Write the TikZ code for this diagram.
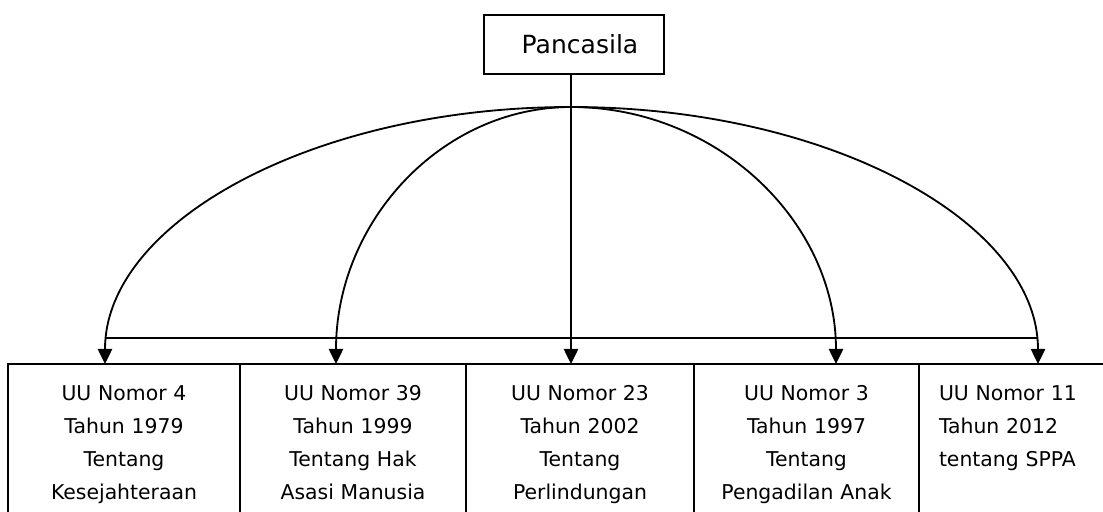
\documentclass[tikz,border=0pt]{standalone}
\usepackage{fontspec}
\setmainfont{DejaVu Sans}
\usetikzlibrary{positioning,arrows.meta}

\begin{document}
\begin{tikzpicture}[x=1cm,y=1cm, every node/.style={align=center},
  link/.style={line width=1.3pt},
  arrow/.style={link, -{Triangle[length=0.38cm,width=0.36cm]}},
  lawbox/.style={draw, line width=1.3pt, outer sep=0pt, inner xsep=0.4cm, inner ysep=0pt,
    text height=0.9cm, text depth=4.6cm, font=\fontsize{14.5pt}{23.5pt}\selectfont}]
  \useasboundingbox (-14.275,-3.675) rectangle (13.3,9.1);

  \node[draw, line width=1.3pt, outer sep=0pt, minimum width=4.5cm, minimum height=1.475cm,
    font=\fontsize{17.8pt}{20pt}\selectfont] (pancasila) at (0.075,7.9875) {\hspace{0.3cm}Pancasila};
  \coordinate (split) at (0,6.425);

  \node[lawbox, anchor=north west, text width=5.0cm] (uu4) at (-14.075,0)
    {UU Nomor 4\\Tahun 1979\\Tentang\\Kesejahteraan};
  \node[lawbox, text width=4.85cm, right=0pt of uu4] (uu39)
    {UU Nomor 39\\Tahun 1999\\Tentang Hak\\Asasi Manusia};
  \node[lawbox, text width=4.9cm, right=0pt of uu39] (uu23)
    {UU Nomor 23\\Tahun 2002\\Tentang\\Perlindungan};
  \node[lawbox, text width=4.825cm, right=0pt of uu23] (uu3)
    {UU Nomor 3\\Tahun 1997\\Tentang\\Pengadilan Anak};
  \node[lawbox, text width=4.625cm, inner xsep=0.5cm, align=left, right=0pt of uu3] (uu11)
    {UU Nomor 11\\Tahun 2012\\tentang SPPA};

  \draw[arrow] (pancasila.south -| split) -- (split |- uu23.north);
  \draw[link] ([xshift=-0.475cm,yshift=0.65cm]uu4.north) -- ([xshift=0.1625cm,yshift=0.65cm]uu11.north);
  % quarter ellipses from the split point down to the boxes
  \draw[arrow] (split) .. controls +(-6.43,0) and +(0,3.55) .. ([xshift=-0.475cm]uu4.north);
  \draw[arrow] (split) .. controls +(-3.245,0) and +(0,3.55) .. ([xshift=-0.425cm]uu39.north);
  \draw[arrow] (split) .. controls +(3.66,0) and +(0,3.55) .. ([xshift=0.7375cm]uu3.north);
  \draw[arrow] (split) .. controls +(6.45,0) and +(0,3.55) .. ([xshift=0.1625cm]uu11.north);
\end{tikzpicture}
\end{document}
